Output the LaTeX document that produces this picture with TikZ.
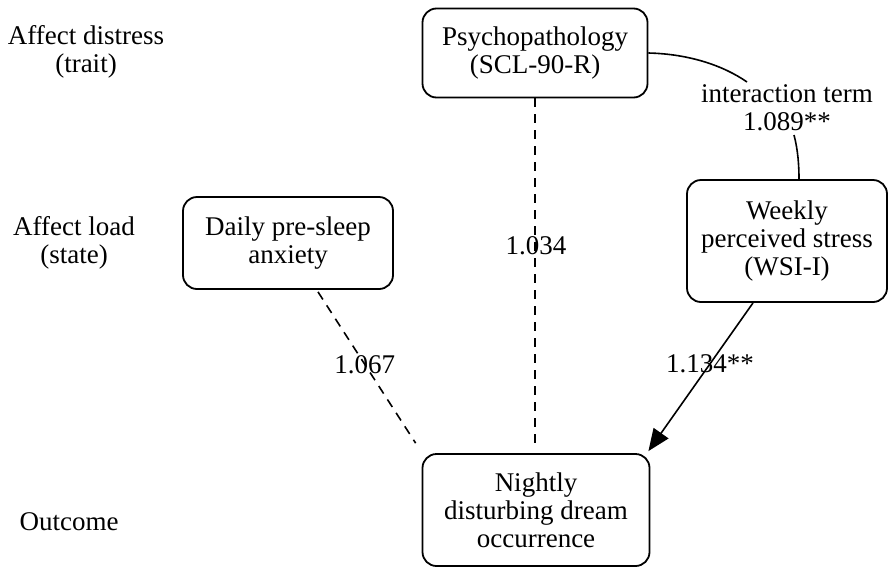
\documentclass[tikz,border=0pt]{standalone}
\usepackage{fontspec}
\setmainfont{Liberation Serif}
\usetikzlibrary{arrows.meta, calc}

\begin{document}
\begin{tikzpicture}[
  x=0.5pt, y=-0.5pt,
  font=\fontsize{13.5}{14}\selectfont,
  box/.style ={draw, rounded corners=7pt, align=center, line width=0.9pt, inner sep=2pt},
  lvl/.style ={align=center},
  coef/.style={align=center, inner sep=1pt},
  line/.style={line width=0.8pt},
  darr/.style={line, dash pattern=on 4.5pt off 3.5pt},
  arr/.style ={line, -{Triangle[length=11pt, width=9pt]}},
]
\useasboundingbox (0,0) rectangle (888,568);

% ================= level labels (left margin) =================
\node[lvl] (trait) at (86,52)  {Affect distress\\(trait)};
\node[lvl] (state) at (74,243) {Affect load\\(state)};
\node[lvl] (outc)  at (69,522) {Outcome};

% ================= variables =================
\node[box, minimum width=112.5pt, minimum height=44.5pt] (psy) at (535,53)
  {Psychopathology\\(SCL-90-R)};
\node[box, minimum width=105pt, minimum height=46pt] (day) at (288,243)
  {Daily pre-sleep\\anxiety};
\node[box, minimum width=100pt, minimum height=61pt] (wk) at (787,241)
  {Weekly\\perceived stress\\(WSI-I)};
\node[box, minimum width=113.5pt, minimum height=56pt] (nit) at (536,510)
  {Nightly\\disturbing dream\\occurrence};

% ================= interaction (moderation) =================
\node[coef] (inter) at (787,108) {interaction term\\1.089**};
\coordinate (ia) at (747,82);
\coordinate (ib) at (794,135);
\draw[line] (psy.east) .. controls (690,54) and (724,66) .. (ia);
\draw[line] (ib) .. controls (798,150) and (799,166) .. ($(wk.north)+(12,0)$);

% ================= effects on outcome =================
\draw[darr, shorten >=3.5pt] (psy.south) -- (psy.south |- nit.north)
  node[coef, pos=0.415, xshift=0.5pt] {1.034};
\draw[darr] ($(day.south)+(30,2)$) -- ($(nit.north west)+(-6,-10)$)
  node[coef, pos=0.48] {1.067};
\draw[arr] ($(wk.south)+(-34,0)$) -- ($(nit.north east)+(-2,-2)$)
  node[coef, pos=0.41] {1.134**};

\end{tikzpicture}
\end{document}
